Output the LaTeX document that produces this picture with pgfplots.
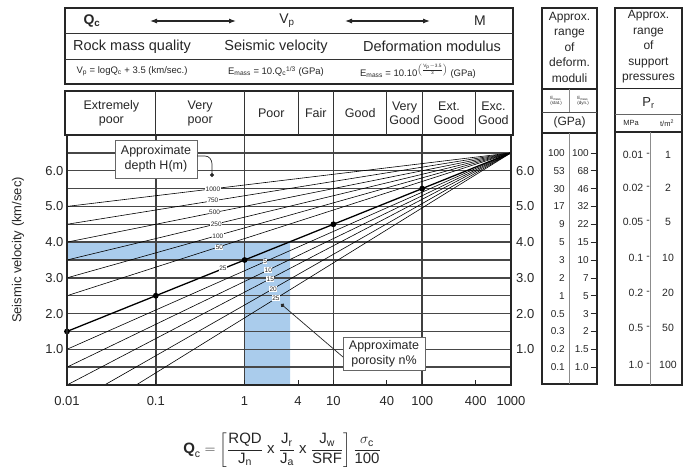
\documentclass[border=0pt]{standalone}
\usepackage{fontspec}
\setmainfont{Liberation Sans}
\usepackage{amsmath}
\usepackage{pgfplots}
\pgfplotsset{compat=1.18}
\usetikzlibrary{arrows.meta}
\definecolor{bandblue}{RGB}{170,204,236}
\newcommand{\fs}[1]{\fontsize{#1}{#1}\selectfont}
\begin{document}
\begin{tikzpicture}
\useasboundingbox (0,0) rectangle (688pt,-473pt);
\begin{axis}[
  at={(67pt,-385pt)}, anchor=south west,
  scale only axis, width=444pt, height=250pt,
  xmode=log, xmin=0.01, xmax=1000, ymin=0, ymax=7,
  axis on top, clip mode=individual,
  axis line style={line width=1.4pt, black!85},
  xtick={0.01,0.1,1,4,10,40,100,400,1000},
  xticklabels={0.01,0.1,1,4,10,40,100,400,1000},
  xticklabel style={font=\fs{13}, text=black!85, yshift=-8pt},
  xtick pos=bottom, tick align=inside, major tick length=5pt,
  xtick style={line width=0.8pt, black!85},
  ytick={1,2,3,4,5,6},
  yticklabels={1.0,2.0,3.0,4.0,5.0,6.0},
  yticklabel style={font=\fs{13}, text=black!85},
  ytick pos=left, major y tick style={draw=none},
]
% blue shaded L-shaped band
\addplot[fill=bandblue, draw=none] coordinates {(0.01,3.5) (1,3.5) (1,0) (3.25,0) (3.25,4) (0.01,4)} -- cycle;
% grid lines
\pgfplotsinvokeforeach{0.5,1,1.5,2,2.5,3,3.5,4,4.5,5,5.5,6,6.5}{
  \draw[black!72, line width=1.5pt] (axis cs:0.01,#1) -- (axis cs:1000,#1);
}
\pgfplotsinvokeforeach{0.1,1,10,100}{
  \draw[black!75, line width=1.5pt] (axis cs:#1,0) -- (axis cs:#1,7);
}
% depth lines (converge at Q=1000, Vp=6.5)
\addplot[black, line width=0.6pt] coordinates {(0.01,5.0) (1000,6.5)};
\addplot[black, line width=0.6pt] coordinates {(0.01,4.5) (1000,6.5)};
\addplot[black, line width=0.6pt] coordinates {(0.01,4.0) (1000,6.5)};
\addplot[black, line width=0.6pt] coordinates {(0.01,3.5) (1000,6.5)};
\addplot[black, line width=0.6pt] coordinates {(0.01,3.0) (1000,6.5)};
\addplot[black, line width=0.6pt] coordinates {(0.01,2.5) (1000,6.5)};
% porosity lines
\addplot[black, line width=0.6pt] coordinates {(0.01,1.0) (1000,6.5)};
\addplot[black, line width=0.6pt] coordinates {(0.01,0.5) (1000,6.5)};
\addplot[black, line width=0.6pt] coordinates {(0.01,0.0) (1000,6.5)};
\addplot[black, line width=0.6pt] coordinates {(0.01,-0.6) (1000,6.5)};
\addplot[black, line width=0.6pt] coordinates {(0.01,-1.2) (1000,6.5)};
% main line Vp = log Qc + 3.5
\addplot[black, line width=1.3pt, mark=*, mark size=2.2pt, mark options={fill=black}] coordinates {(0.01,1.5) (0.1,2.5) (1,3.5) (10,4.5) (100,5.5)};
\addplot[black, line width=1.3pt] coordinates {(100,5.5) (1000,6.5)};
% depth / porosity labels
\begin{scope}[every node/.style={font=\fs{6.5}, fill=white, inner sep=0.4pt, text=black!85}]
\node at (axis cs:0.44,5.49) {1000};
\node at (axis cs:0.44,5.16) {750};
\node at (axis cs:0.46,4.83) {500};
\node at (axis cs:0.48,4.50) {250};
\node at (axis cs:0.50,4.17) {100};
\node at (axis cs:0.52,3.85) {50};
\node at (axis cs:0.57,3.26) {25};
\node at (axis cs:1.70,3.45) {5};
\node at (axis cs:1.85,3.22) {10};
\node at (axis cs:1.95,2.97) {15};
\node at (axis cs:2.10,2.69) {20};
\node at (axis cs:2.25,2.44) {25};
\end{scope}
\end{axis}

\begin{scope}[x=1pt, y=-1pt, font=\fs{13}, text=black!85]
% ---- top box
\draw[line width=1.5pt, black!85] (65,8) rectangle (513,84);
\draw[line width=1pt, black!80] (65,33.5) -- (513,33.5);
\draw[line width=1pt, black!80] (65,59.5) -- (513,59.5);
\node[font=\fs{14}] at (92,21) {\textbf{Q\textsubscript{c}}};
\node[font=\fs{14}] at (287,21) {V\textsubscript{p}};
\node[font=\fs{14}] at (480,21) {M};
\draw[{Latex[length=7pt,width=5pt]}-{Latex[length=7pt,width=5pt]}, line width=1.1pt, black!85] (150,21) -- (236,21);
\draw[{Latex[length=7pt,width=5pt]}-{Latex[length=7pt,width=5pt]}, line width=1.1pt, black!85] (345,21) -- (430,21);
\node[font=\fs{14.5}] at (132,46.5) {Rock mass quality};
\node[font=\fs{14.5}] at (276,46.5) {Seismic velocity};
\node[font=\fs{14.5}] at (432,46.5) {Deformation modulus};
\node[font=\fs{9.5}] at (132,71.5) {V\textsubscript{p} = logQ\textsubscript{c} + 3.5 (km/sec.)};
\node[font=\fs{9.5}] at (276,71.5) {E\textsubscript{mass} = 10.Q\textsubscript{c}\textsuperscript{1/3} (GPa)};
\node[font=\fs{9.5}] at (418,71.5) {E\textsubscript{mass} = 10.10$^{\left(\frac{\text{V}_\text{p}-\text{3.5}}{\text{3}}\right)}$ (GPa)};
% ---- category header
\draw[line width=1.5pt, black!85] (65,91) rectangle (513,135);
\foreach \xx in {155.8,244.6,298.1,333.4,386.9,422.2,475.7} \draw[line width=1pt, black!80] (\xx,91) -- (\xx,135);
\begin{scope}[every node/.style={font=\fontsize{12.5}{14}\selectfont, align=center}]
\node at (111.4,113) {Extremely\\poor};
\node at (200.2,113) {Very\\poor};
\node at (271.3,113) {Poor};
\node at (315.8,113) {Fair};
\node at (360.2,113) {Good};
\node at (404.6,113) {Very\\Good};
\node at (449,113) {Ext.\\Good};
\node at (493.4,113) {Exc.\\Good};
\end{scope}
% ---- axis titles
\node[rotate=90] at (18,250) {Seismic velocity (km/sec)};
\foreach \v in {1,...,6} \node[anchor=west, inner sep=0pt] at (516,{385-35.714*\v}) {\v.0};
% ---- annotation boxes
\node[draw=black!60, line width=0.8pt, fill=white, align=center, font=\fontsize{12.5}{15}\selectfont, minimum width=82pt, minimum height=38pt, inner sep=1pt] at (156,159) {Approximate\\depth H(m)};
\draw[-{Circle[length=4pt]}, line width=0.7pt, black!85] (197,156) -- (205,156) to[out=0,in=90] (212,164) -- (212,177);
\node[draw=black!60, line width=0.8pt, fill=white, align=center, font=\fontsize{12.5}{15}\selectfont, minimum width=82pt, minimum height=33pt, inner sep=1pt] at (384,353.5) {Approximate\\porosity n\%};
\draw[-{Circle[length=4pt]}, line width=0.7pt, black!85] (343,357) -- (281,304);
% ---- bottom formula
\node[font=\fs{15}] at (282,450) {$\textbf{Q}_{\text{c}} = \left[\dfrac{\text{RQD}}{\text{J}_{\text{n}}} \text{ x } \dfrac{\text{J}_{\text{r}}}{\text{J}_{\text{a}}} \text{ x } \dfrac{\text{J}_{\text{w}}}{\text{SRF}}\right] \dfrac{\sigma_{\text{c}}}{\text{100}}$};
% ---- deformation moduli panel
\draw[line width=1.5pt, black!85] (542,8) rectangle (597,384);
\draw[line width=1.5pt, black!85] (542,89) -- (597,89);
\draw[line width=0.6pt, black!70] (542,112) -- (597,112);
\draw[line width=1.5pt, black!85] (542,133) -- (597,133);
\draw[line width=0.6pt, black!45] (569.5,89) -- (569.5,112);
\draw[line width=0.6pt, black!45] (569.5,133) -- (569.5,384);
\node[align=center, font=\fontsize{12}{15.5}\selectfont] at (569.5,47) {Approx.\\range\\of\\deform.\\moduli};
\node[align=left, font=\fontsize{4.5}{5}\selectfont] at (556,100.5) {E\textsubscript{mass}\\(stat.)};
\node[align=left, font=\fontsize{4.5}{5}\selectfont] at (583,100.5) {E\textsubscript{mass}\\(dyn.)};
\node[font=\fs{12}] at (569.5,122.5) {(GPa)};
\foreach \v/\a/\b in {6.5/100/100, 6.0/53/68, 5.5/30/46, 5.0/17/32, 4.5/9/22, 4.0/5/15, 3.5/3/10, 3.0/2/7, 2.5/1/5, 2.0/0.5/3, 1.5/0.3/2, 1.0/0.2/1.5, 0.5/0.1/1.0} {
  \node[anchor=east, font=\fs{10}, inner sep=0pt] at (565,{385-35.714*\v}) {\a};
  \node[anchor=east, font=\fs{10}, inner sep=0pt] at (589,{385-35.714*\v}) {\b};
  \draw[line width=0.6pt, black!85] (590.5,{385-35.714*\v}) -- (597,{385-35.714*\v});
}
% ---- support pressure panel
\draw[line width=1.5pt, black!85] (615,8) rectangle (682,385);
\draw[line width=1.5pt, black!85] (615,88.5) -- (682,88.5);
\draw[line width=0.6pt, black!60] (615,114) -- (682,114);
\draw[line width=1.5pt, black!85] (615,132) -- (682,132);
\draw[line width=0.6pt, black!45] (650,132) -- (650,385);
\node[align=center, font=\fontsize{12}{15.5}\selectfont] at (648.5,47) {Approx.\\range\\of\\support\\pressures};
\node[font=\fs{13}] at (648.5,103) {P\textsubscript{r}};
\node[font=\fs{7.5}] at (631,123) {MPa};
\node[font=\fs{7.5}] at (667,123) {t/m\textsuperscript{2}};
\foreach \yy/\a/\b in {155/0.01/1, 188/0.02/2, 222/0.05/5, 258/0.1/10, 293/0.2/20, 328/0.5/50, 365/1.0/100} {
  \node[anchor=east, font=\fs{10.5}, inner sep=0pt] at (643.5,\yy) {\a};
  \node[font=\fs{10.5}, inner sep=0pt] at (648,\yy) {-};
  \node[font=\fs{10.5}, inner sep=0pt] at (668,\yy) {\b};
}
\end{scope}
\end{tikzpicture}
\end{document}
